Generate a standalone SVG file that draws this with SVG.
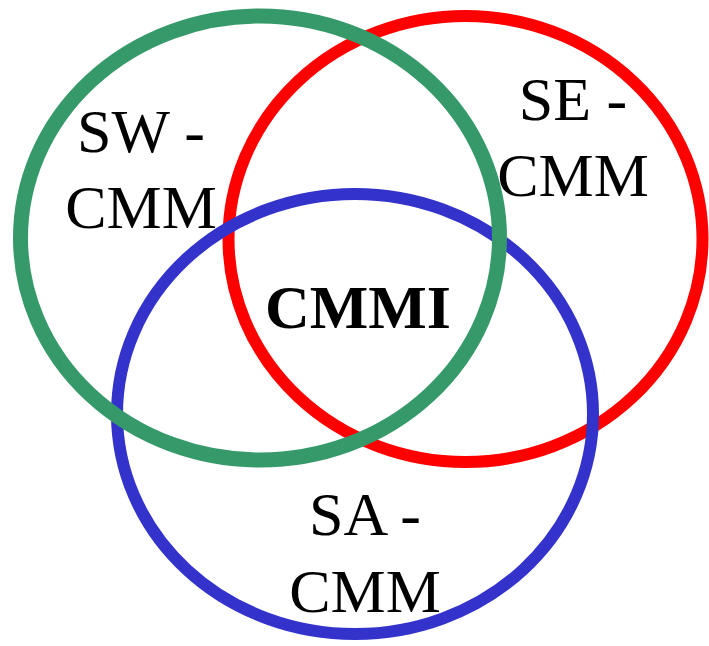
<svg xmlns="http://www.w3.org/2000/svg" width="709" height="646" viewBox="0 0 709 646">
  <style>
    .ring { fill: none; }
    .label { font-family: "Liberation Serif", "Times New Roman", serif; font-size: 62px; fill: #000; text-anchor: middle; }
    .core { font-weight: bold; }
  </style>
  <rect width="709" height="646" fill="#fff"/>
  <!-- Rings: SE (red) underneath, SA (blue) over it, SW (green) on top -->
  <g id="se-cmm">
    <ellipse class="ring" cx="465.5" cy="239" rx="237" ry="223" stroke="#ff0000" stroke-width="12"/>
    <text class="label" x="573" y="120">SE -</text>
    <text class="label" x="573" y="196">CMM</text>
  </g>
  <g id="sa-cmm">
    <ellipse class="ring" cx="355" cy="414" rx="238" ry="220" stroke="#3333cc" stroke-width="12"/>
    <text class="label" x="365" y="535">SA -</text>
    <text class="label" x="365" y="612">CMM</text>
  </g>
  <g id="sw-cmm">
    <ellipse class="ring" cx="260" cy="238" rx="239.5" ry="222" stroke="#35996a" stroke-width="15"/>
    <text class="label" x="141" y="152">SW -</text>
    <text class="label" x="141" y="228">CMM</text>
  </g>
  <g id="cmmi">
    <text class="label core" x="358" y="328">CMMI</text>
  </g>
</svg>
